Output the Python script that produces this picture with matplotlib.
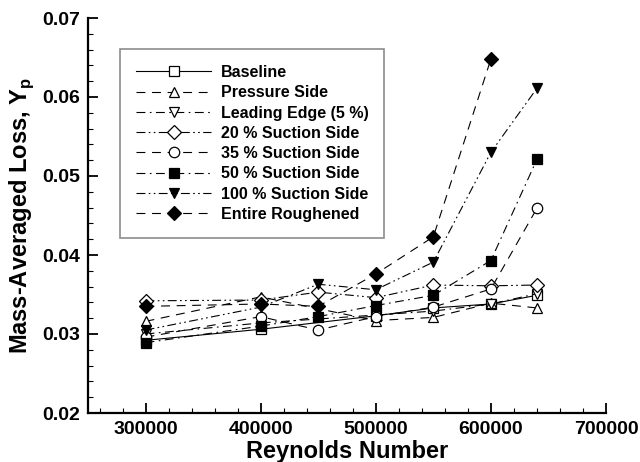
import numpy as np
import matplotlib
matplotlib.use("Agg")
import matplotlib.pyplot as plt
from matplotlib.ticker import MultipleLocator, FormatStrFormatter

plt.rcParams['font.family'] = ['Liberation Sans', 'DejaVu Sans']
plt.rcParams['font.weight'] = 'bold'

# data
labels = ["Baseline", "Pressure Side", "Leading Edge (5 %)", "20 % Suction Side",
          "35 % Suction Side", "50 % Suction Side", "100 % Suction Side", "Entire Roughened"]

re_all = [300000, 400000, 450000, 500000, 550000, 600000, 640000]
re_no450 = [300000, 400000, 500000, 550000, 600000, 640000]
re_rough = [300000, 400000, 450000, 500000, 550000, 600000]

baseline = [0.0292, 0.0306, 0.0323, 0.0333, 0.0338, 0.0349]
pressure = [0.0316, 0.0347, 0.0317, 0.0321, 0.0339, 0.0333]
leading = [0.0300, 0.0314, 0.0324, 0.0329, 0.0338, 0.0351]
suction20 = [0.0342, 0.0343, 0.0353, 0.0346, 0.0362, 0.0361, 0.0362]
suction35 = [0.0296, 0.0322, 0.0305, 0.0322, 0.0334, 0.0357, 0.0459]
suction50 = [0.0289, 0.0310, 0.0322, 0.0336, 0.0349, 0.0393, 0.0521]
suction100 = [0.0305, 0.0334, 0.0363, 0.0356, 0.0391, 0.0530, 0.0611]
rough = [0.0335, 0.0338, 0.0335, 0.0376, 0.0423, 0.0648]

xs = [re_no450, re_no450, re_no450, re_all, re_all, re_all, re_all, re_rough]
ys = [baseline, pressure, leading, suction20, suction35, suction50, suction100, rough]

dash = (0, (8, 6))
dashdot = (0, (8, 4, 1.5, 4))
dashdotdot = (0, (8, 3, 1.5, 3, 1.5, 3))
styles = ['-', dash, dashdot, dashdotdot, dash, dashdot, dashdotdot, dash]
markers = ['s', '^', 'v', 'D', 'o', 's', 'v', 'D']
filled = [False, False, False, False, False, True, True, True]
sizes = [7, 7.5, 7.5, 7, 7.5, 6.5, 7.5, 7]

fig = plt.figure(figsize=(6.4, 4.62), dpi=100)
ax = fig.add_axes([88/640, 1-413/462, (606-88)/640, (413-18)/462])

for x, y, lab, ls, m, f, s in zip(xs, ys, labels, styles, markers, filled, sizes):
    ax.plot(x, y, color='black', linestyle=ls, linewidth=0.8, marker=m,
            markersize=s, markerfacecolor='black' if f else 'white',
            markeredgecolor='black', markeredgewidth=0.9, label=lab)

ax.set_xlim(250000, 700000)
ax.set_ylim(0.02, 0.07)
ax.xaxis.set_major_locator(MultipleLocator(100000))
ax.xaxis.set_minor_locator(MultipleLocator(20000))
ax.yaxis.set_major_locator(MultipleLocator(0.01))
ax.yaxis.set_minor_locator(MultipleLocator(0.002))
ax.yaxis.set_major_formatter(FormatStrFormatter('%.2f'))

for side in ['top', 'right']:
    ax.spines[side].set_visible(False)
for side in ['left', 'bottom']:
    ax.spines[side].set_linewidth(1.6)

ax.tick_params(which='major', direction='in', length=7, width=1.3, labelsize=14, pad=6)
ax.tick_params(which='minor', direction='in', length=3.5, width=0.8)
for t in ax.get_xticklabels() + ax.get_yticklabels():
    t.set_fontweight('bold')

ax.set_xlabel('Reynolds Number', fontsize=17, fontweight='bold', labelpad=1)
ax.set_ylabel(r'Mass-Averaged Loss, Y$_\mathregular{p}$', fontsize=17,
              fontweight='bold', labelpad=4)

leg = ax.legend(loc='upper left', bbox_to_anchor=(120/640, 1-49/462),
                bbox_transform=fig.transFigure, borderaxespad=0,
                prop={'size': 11.5, 'weight': 'bold'}, handlelength=4.7,
                handletextpad=0.6, labelspacing=0.33, borderpad=1.0,
                fancybox=False, framealpha=1, edgecolor='0.55')
leg.get_frame().set_linewidth(1.2)

fig.savefig('out.png', dpi=100)
